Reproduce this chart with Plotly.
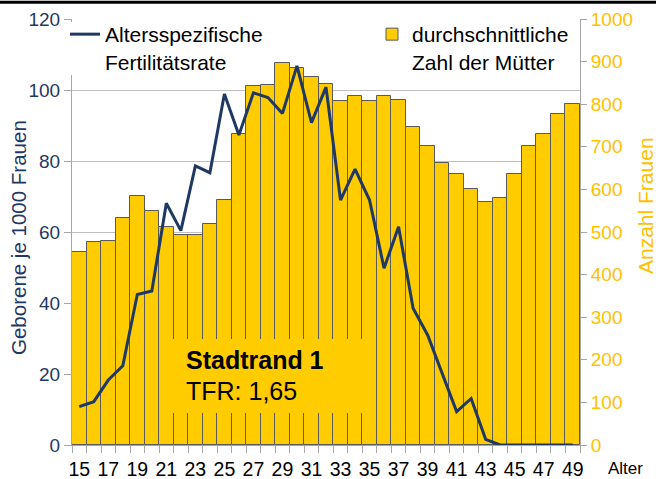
import plotly.graph_objects as go

# ---- data ----
ages = list(range(15, 50))
mothers = [453, 477, 480, 532, 585, 550, 512, 492, 492, 518,
           574, 729, 843, 846, 896, 886, 864, 848, 807, 820,
           807, 820, 811, 747, 703, 663, 637, 600, 570, 579,
           635, 702, 729, 776, 801]
asfr = [10.8, 12.2, 18.3, 22.3, 42.4, 43.4, 68.1, 60.4, 78.6, 76.7,
        98.9, 87.3, 99.2, 97.9, 93.4, 106.8, 90.8, 100.8, 69.0, 77.7,
        69.0, 49.8, 61.5, 38.5, 31.0, 20.2, 9.4, 13.1, 1.6, 0.0,
        0.0, 0.0, 0.0, 0.0, 0.0]
x_tickvals = list(range(15, 50, 2))
x_ticktext = [str(v) for v in x_tickvals]
series_line_name = "Altersspezifische<br>Fertilitätsrate"
series_bar_name = "durchschnittliche<br>Zahl der Mütter"
left_title = "Geborene je 1000 Frauen"
right_title = "Anzahl Frauen"
box_title = "Stadtrand 1"
box_sub = "TFR: 1,65"

FONT = "Liberation Sans, Arial, sans-serif"
NAVY = "#1F3864"
GOLD = "#FFC000"
BAR = "#FFCC00"
AXIS = "#A6A6A6"
GRID = "#BFBFBF"

W, H = 656, 479
L, R, T, B = 72, 76, 19, 34
PW, PH = W - L - R, H - T - B


def px(xp):
    return (xp - L) / PW


def py(yp):
    return (H - B - yp) / PH


fig = go.Figure()
fig.add_trace(go.Bar(
    x=ages, y=mothers, name=series_bar_name, width=1,
    marker=dict(color=BAR, line=dict(color="#5A5A5A", width=1)),
    yaxis="y", legend="legend2"))
fig.add_trace(go.Scatter(
    x=ages, y=asfr, mode="lines", name=series_line_name,
    line=dict(color=NAVY, width=3), yaxis="y2", legend="legend"))

boundaries = [a - 0.5 for a in ages] + [ages[-1] + 0.5]

fig.update_layout(
    width=W, height=H,
    margin=dict(l=L, r=R, t=T, b=B, autoexpand=False),
    paper_bgcolor="white", plot_bgcolor="white",
    font=dict(family=FONT, color="black"),
    bargap=0,
    showlegend=True,
    xaxis=dict(
        range=[ages[0] - 0.5, ages[-1] + 0.5], automargin=False,
        tickmode="array", tickvals=x_tickvals, ticktext=x_ticktext,
        ticks="outside", ticklen=7, tickcolor="rgba(0,0,0,0)",
        tickfont=dict(size=19.5, color="black"),
        showline=True, linecolor=AXIS, linewidth=1,
        showgrid=False, zeroline=False,
        minor=dict(tickmode="array", tickvals=boundaries, ticks="outside",
                   ticklen=7, tickcolor=AXIS, tickwidth=1, showgrid=False),
    ),
    yaxis=dict(
        side="right", range=[0, 1000], dtick=100, automargin=False,
        ticks="outside", ticklen=6, tickcolor=AXIS,
        tickfont=dict(size=19, color=GOLD),
        showline=True, linecolor=AXIS, linewidth=1,
        showgrid=False, zeroline=False,
    ),
    yaxis2=dict(
        overlaying="y", side="left", range=[0, 120], dtick=20,
        automargin=False,
        ticks="outside", ticklen=7, tickcolor=AXIS,
        tickfont=dict(size=19, color=NAVY),
        showline=True, linecolor=AXIS, linewidth=1,
        showgrid=True, gridcolor=GRID, gridwidth=1, zeroline=False,
    ),
    legend=dict(x=px(65), xanchor="left", y=py(14), yanchor="top",
                bgcolor="rgba(0,0,0,0)", font=dict(size=21, color="black"),
                valign="top", borderwidth=0),
    legend2=dict(x=px(372), xanchor="left", y=py(14), yanchor="top",
                 bgcolor="rgba(0,0,0,0)", font=dict(size=21, color="black"),
                 valign="top", borderwidth=0),
    shapes=[
        dict(type="rect", xref="paper", yref="paper",
             x0=px(173), x1=px(376), y0=py(413), y1=py(339),
             fillcolor=BAR, line=dict(width=0), layer="above"),
        dict(type="rect", xref="paper", yref="paper",
             x0=px(68), x1=px(76), y0=py(75), y1=py(22),
             fillcolor="white", line=dict(width=0), layer="above"),
        dict(type="line", xref="paper", yref="paper",
             x0=px(0), x1=px(W), y0=py(2.2), y1=py(2.2),
             line=dict(color="black", width=3), layer="above"),
    ],
    annotations=[
        dict(text="<b>" + box_title + "</b>", xref="paper", yref="paper",
             x=px(184), y=py(360), xanchor="left", yanchor="middle",
             showarrow=False, font=dict(size=25, color="black")),
        dict(text=box_sub, xref="paper", yref="paper",
             x=px(184), y=py(390.5), xanchor="left", yanchor="middle",
             showarrow=False, font=dict(size=25, color="black")),
        dict(text=left_title, xref="paper", yref="paper",
             x=px(18), y=py(238), xanchor="center", yanchor="middle",
             textangle=-90, showarrow=False,
             font=dict(size=20.5, color=NAVY)),
        dict(text=right_title, xref="paper", yref="paper",
             x=px(645), y=py(206), xanchor="center", yanchor="middle",
             textangle=-90, showarrow=False,
             font=dict(size=21, color=GOLD)),
        dict(text="Alter", xref="paper", yref="paper",
             x=px(625), y=py(469), xanchor="center", yanchor="middle",
             showarrow=False, font=dict(size=17, color="black")),
    ],
)

fig.write_html("out.html", config={"displayModeBar": False},
               post_script="document.body.style.margin='0';")
